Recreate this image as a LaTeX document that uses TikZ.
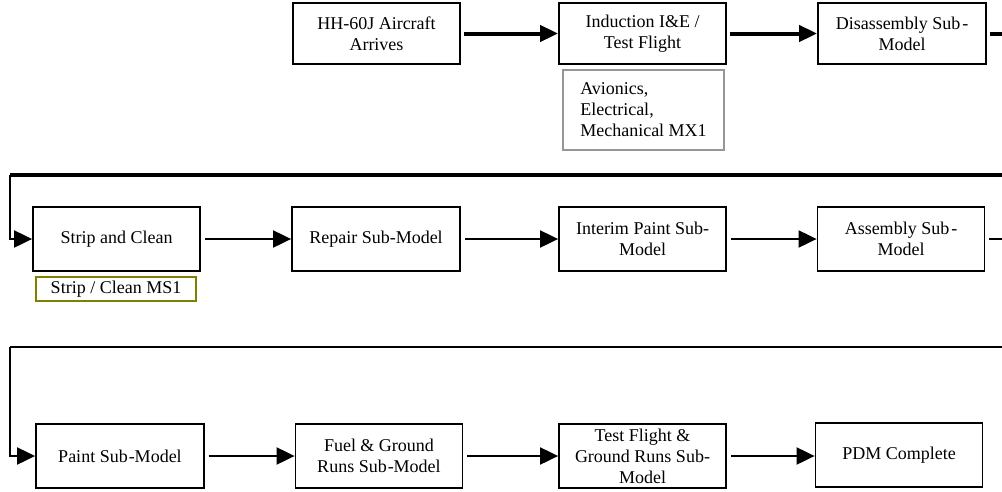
\documentclass[tikz,border=0pt]{standalone}
\usepackage{fontspec}
\setmainfont{Liberation Serif}
\newfontfamily\timesfont{Liberation Serif}
\usetikzlibrary{arrows.meta}
\definecolor{olivebox}{RGB}{128,128,0}
\definecolor{graybox}{RGB}{150,150,150}
\tikzset{
  stepbox/.style={draw=black, line width=1.8pt, minimum width=167pt, minimum height=63pt, align=center, inner sep=0pt, font=\timesfont\fontsize{18}{21}\selectfont},
  notebox/.style={line width=1.5pt, align=left, inner sep=0pt, font=\timesfont\fontsize{18}{21}\selectfont},
  bigarrow/.style={line width=4pt, -{Triangle[length=18pt,width=16pt]}, shorten <=3pt},
  thinarrow/.style={line width=2pt, -{Triangle[length=18pt,width=17pt]}, shorten <=4pt},
}
\begin{document}
\begin{tikzpicture}[x=1pt,y=-1pt]
\useasboundingbox (0,0) rectangle (1002,491);
\clip (0,0) rectangle (1002,491);
% row 1
\node[stepbox, minimum height=61pt] (hh) at (376.5,33.5) {HH-60J Aircraft\\Arrives};
\node[stepbox, minimum height=61pt] (ind) at (642.5,33.5) {Induction I\&E /\\Test Flight};
\node[stepbox, minimum height=61pt, minimum width=168pt] (dis) at (902,33.5) {Disassembly Sub\kern2pt-\\Model};
\node[notebox, draw=graybox, minimum width=161pt, minimum height=80pt] (avi) at (643.5,110) {Avionics,\\Electrical,\\Mechanical MX1};
% row 2
\node[stepbox, minimum height=64pt] (strip) at (116.5,239) {Strip and Clean};
\node[notebox, draw=olivebox, minimum width=160pt, minimum height=24pt, align=center] (ms1) at (116,289) {Strip / Clean MS1};
\node[stepbox, minimum height=64pt, minimum width=168pt] (rep) at (376,239) {Repair Sub-Model};
\node[stepbox, minimum height=64pt] (int) at (642.5,239) {Interim Paint Sub-\\Model};
\node[stepbox, minimum height=64pt] (asm) at (901,239) {Assembly Sub\kern2pt-\\Model};
% row 3
\node[stepbox, minimum height=64pt, minimum width=168pt] (paint) at (120,456) {Paint Sub\kern1pt-Model};
\node[stepbox, minimum height=64pt] (fuel) at (379,456) {Fuel \& Ground\\Runs Sub\kern1pt-Model};
\node[stepbox, minimum height=64pt] (tf) at (642.5,456) {Test Flight \&\\Ground Runs Sub-\\Model};
\node[stepbox, minimum height=64pt] (pdm) at (899,455) {PDM Complete};
% coordinates for loops
\coordinate (r1) at (1012,33.5);
\coordinate (l1) at (10,175);
\coordinate (r2) at (1012,239);
\coordinate (l2) at (10,347);
% connectors row 1
\draw[bigarrow] (hh.east) -- (ind.west);
\draw[bigarrow] (ind.east) -- (dis.west);
\draw[line width=4pt, shorten <=3pt] (dis.east) -- (r1) |- (l1);
\draw[thinarrow, shorten <=0pt] (l1) |- (strip.west);
% row 2
\draw[thinarrow] (strip.east) -- (rep.west);
\draw[thinarrow] (rep.east) -- (int.west);
\draw[thinarrow] (int.east) -- (asm.west);
\draw[line width=2pt, shorten <=4pt] (asm.east) -- (r2) |- (l2);
\draw[thinarrow, shorten <=0pt] (l2) |- (paint.west);
% row 3
\draw[thinarrow] (paint.east) -- (fuel.west);
\draw[thinarrow] (fuel.east) -- (tf.west);
\draw[thinarrow] (tf.east) -- (tf.east -| pdm.west);
\end{tikzpicture}
\end{document}
